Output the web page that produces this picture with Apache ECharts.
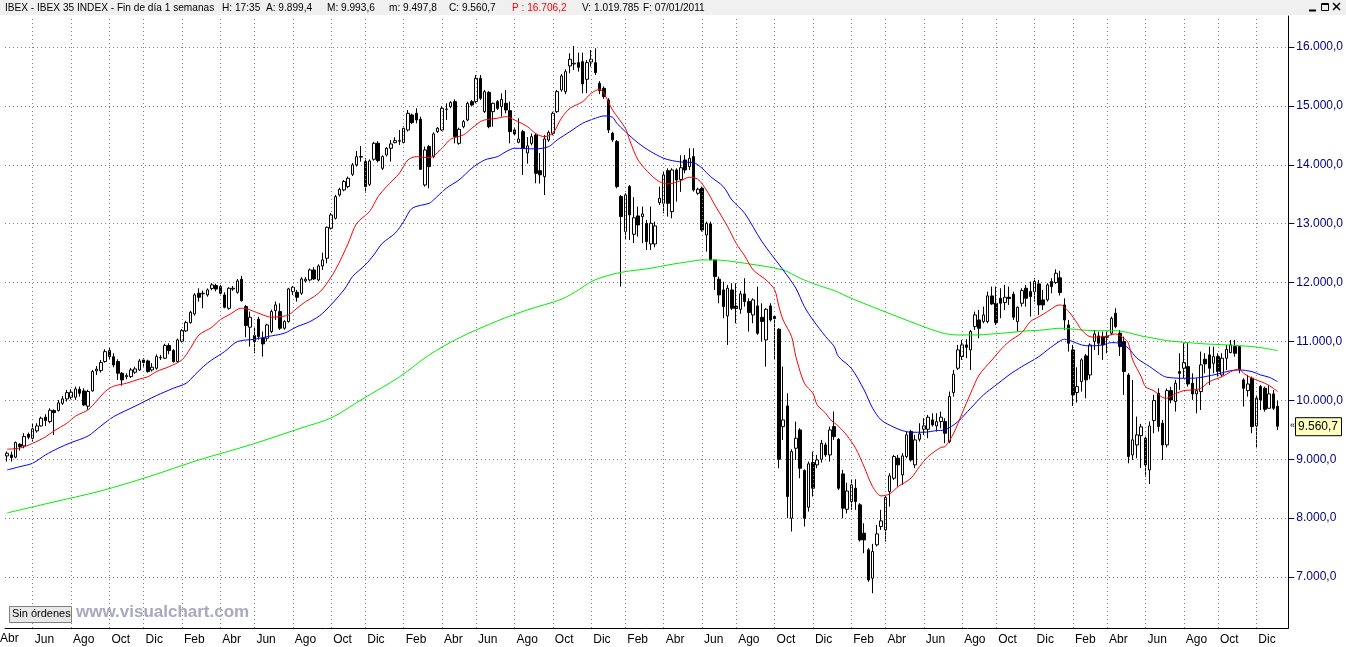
<!DOCTYPE html>
<html><head><meta charset="utf-8">
<script src="https://cdn.jsdelivr.net/npm/echarts@6/dist/echarts.min.js"></script>
<style>html,body{margin:0;padding:0;background:#fff;}#c{width:1346px;height:647px;}</style>
</head><body><div id="c"></div>
<script>
// Weekly candles, first candle week ending 22 Apr 2005, last 07 Jan 2011
const firstWeek = [2005, 3, 22];
const monthNames = ['Ene','Feb','Mar','Abr','May','Jun','Jul','Ago','Sep','Oct','Nov','Dic'];
const opens = [9056,9073,9034,9254,9226,9424,9356,9481,9565,9713,9639,9826,9826,9950,10024,10052,10052,10188,10160,9900,
10160,10500,10505,10658,10844,10740,10658,10460,10400,10403,10477,10516,10686,10669,10516,10545,10720,10715,10930,10845,
10658,11003,11179,11320,11467,11818,11810,11790,11900,11950,11931,11790,11563,11890,11835,12056,11592,11241,11100,11377,
11054,11054,11167,11524,11507,11224,11337,11846,11835,11818,12027,12044,12214,12044,12282,12412,12922,13091,13487,13572,
13629,13838,13997,14130,14053,13668,14093,14365,13940,14166,14280,14376,14400,14376,14591,14846,14874,14772,13657,14308,
14138,14562,14591,14940,14987,15072,14364,14647,14760,15072,15072,15468,14902,15230,14902,15072,14987,15043,14919,14591,
14381,14562,14200,14364,14506,13900,13799,14421,14534,14902,15270,15242,15678,15712,15734,15751,15451,15746,15734,15383,
15298,15100,14534,14393,13459,12865,13629,12820,13131,13120,13006,12655,12655,13357,13346,13900,13204,13912,13750,14081,
13968,14138,13516,13600,12808,12995,12384,12056,11874,11433,11874,11600,11546,11807,11676,11450,11603,11410,11026,11603,
11422,11207,9554,9905,7998,9186,9497,8807,8185,8943,8904,8999,9243,9073,9554,9339,8751,8150,8281,8508,
8225,7744,7461,6980,7546,7857,7800,8451,8677,9017,8734,9045,9470,8904,9339,9509,9509,9668,9566,9639,
9639,9300,10132,10545,10743,10941,10856,11252,11365,11337,11337,11773,11648,11733,11660,11750,11801,11337,11648,11903,
11846,11846,11977,11705,11705,12016,12000,12080,11620,11280,10856,10132,10318,10754,10431,11001,11093,11082,11070,11139,
11478,11139,10997,10431,9073,9243,9400,9356,8818,9656,10120,9611,9243,10165,9978,10488,10544,10573,10290,10109,
10148,10697,10771,10629,10743,10431,10714,10810,10912,10912,10346,10165,10375,9565,10233,10205,9865,10109,9899.4];
const closes = [9101,9028,9283,9215,9384,9373,9515,9565,9696,9656,9831,9792,9956,10024,10131,10137,10194,10120,9922,10150,
10488,10530,10641,10827,10743,10600,10460,10347,10420,10516,10533,10669,10641,10488,10562,10743,10730,10930,10845,10658,
11026,11184,11320,11496,11790,11750,11818,11875,11960,11890,11818,11580,11903,11903,12027,11693,11269,11410,11000,11082,
10958,11280,11507,11620,11224,11337,11892,11920,11750,12061,12056,12214,12061,12282,12384,12938,13148,13459,13584,13714,
13770,13997,14138,14138,13629,14064,14365,14070,14138,14280,14353,14410,14410,14619,14874,14715,14761,13923,14251,13968,
14523,14619,14958,14947,15055,14477,14602,14732,15043,15015,15468,15128,15241,14647,15043,14958,15111,14930,14562,14523,
14438,14279,14320,14477,13855,13830,14438,14546,14874,15242,15508,15581,15791,15723,15655,15372,15734,15791,15564,15259,
15157,14591,14421,13629,13120,13487,13148,13100,12978,13165,12695,13006,12961,13431,13827,13346,13912,13742,13950,13912,
14110,13572,13584,12893,13006,12384,12101,11790,11592,11903,11563,11560,11807,11676,11490,11705,11139,11340,11546,11365,
11388,9000,9667,8366,9130,9356,8847,7998,8921,8508,8988,9271,9073,9497,9384,8508,8168,8460,8564,8281,
7630,7630,6951,7432,7732,7953,8349,8717,9045,8904,9056,9413,8988,9328,9430,9566,9713,9583,9639,9713,
9441,10064,10443,10856,10941,10901,11167,11450,11224,11450,11773,11637,11320,11648,11750,11728,11411,11580,11863,11733,
11762,12016,11620,11620,11960,11931,12158,11830,11365,10969,10092,10232,10686,10347,10940,11127,10969,10940,11082,11393,
11252,10912,10488,9045,9328,9413,9550,8903,9565,9996,9554,9243,10165,10007,10290,10460,10641,10278,10109,10165,
10601,10618,10545,10743,10488,10714,10867,10941,10799,10516,10205,10278,9554,10035,10007,9848,10109,9865,9560.7];
const lows = [8960,8960,9017,9147,9186,9339,9299,9452,9554,9565,9611,9413,9809,9922,9978,10018,10007,10063,9905,9840,
10148,10430,10471,10641,10700,10560,10347,10250,10358,10380,10450,10500,10573,10470,10488,10520,10686,10700,10783,10640,
10640,10980,11160,11300,11440,11677,11563,11760,11870,11850,11800,11563,11540,11860,11810,11676,11071,10912,10800,11030,
10743,11000,11140,11365,11196,11200,11320,11790,11677,11790,12000,12020,12044,12020,12214,12327,12900,13070,13460,13550,
13600,13810,13968,14053,13527,13640,14070,14040,13910,14140,14053,14364,14336,14350,14563,14690,14704,13912,13629,13600,
14110,14540,14570,14760,14960,14364,14340,14620,14740,14990,15043,15100,14880,14620,14647,14930,14817,14874,14364,14500,
14364,13827,14020,14330,13686,13680,13487,14390,14500,14880,15240,15200,15553,15610,15581,15214,15214,15666,15525,15200,
15120,14540,14390,13600,11931,12724,12724,12670,12780,12667,12554,12554,12599,13318,13176,13120,13091,13374,13540,13855,
13912,13544,13490,12865,12525,12384,11874,11648,11394,10941,11535,11309,11470,11592,11167,11309,11111,10997,10573,11337,
10686,8847,9328,7998,7772,8988,8677,7857,8111,8366,8847,8943,9040,8960,9328,8479,7998,8080,8140,8140,
7602,7404,6920,6725,7517,7800,7602,8196,8649,8536,8564,9017,8960,8847,9300,9413,9356,9554,9470,9526,
9271,9271,10064,10516,10686,10715,10516,11196,11054,11309,11309,11620,11281,11394,11535,11620,11365,11167,11592,11592,
11422,11677,11450,11535,11677,11818,11977,11780,11195,10827,9905,9961,10148,10035,10358,10856,10771,10686,10799,11110,
11224,10754,10092,8931,8988,9017,8850,8705,8581,9441,9469,8988,9200,9950,9809,10177,10375,10233,10007,9780,
9837,10460,10261,10460,10403,10403,10516,10799,10742,10460,9894,10063,9441,9186,9837,9809,9865,9837,9497.8];
const highs = [9130,9130,9300,9271,9441,9452,9599,9611,9724,9764,9865,9848,10007,10075,10177,10188,10233,10233,10205,10180,
10516,10580,10686,10867,10905,10800,10698,10480,10460,10550,10570,10700,10715,10690,10630,10780,10771,10960,10969,10870,
11050,11210,11350,11520,11820,11903,11863,11900,11990,11980,11960,11835,11920,11940,12060,12112,11620,11507,11250,11420,
11167,11300,11540,11677,11648,11360,11910,11942,11875,12090,12090,12240,12260,12310,12508,12950,13180,13490,13610,13740,
13800,14030,14234,14319,14110,14090,14390,14400,14160,14300,14421,14466,14591,14650,14930,14870,14959,14817,14308,14336,
14550,14640,14990,15043,15080,15111,14630,14760,15070,15100,15524,15524,15270,15250,15055,15100,15213,15270,15072,14620,
14789,14591,14470,14530,14534,14200,14506,14580,14900,15270,15540,15620,15893,16017,15904,15904,15779,15949,15977,15420,
15330,15130,14560,14420,13487,13516,13657,13450,13289,13289,13063,13289,13035,13629,13884,13940,13940,13940,14160,14166,
14280,14280,13610,13629,13035,13035,12384,12101,12016,11960,11988,11988,11860,12073,11733,11733,11931,11648,11563,11648,
11450,11224,10573,10120,9169,9639,9526,8830,8960,9130,9073,9328,9280,9554,9809,9356,8819,8600,8649,8660,
8253,7913,7489,7563,7885,8140,8394,8762,9073,9073,9102,9470,9498,9413,9611,9696,9752,9781,9781,9809,
9696,10149,10516,10941,11026,11037,11196,11507,11535,11592,11846,11931,11931,11903,11960,11931,11846,11592,11903,11960,
12016,12073,12044,11875,11988,12073,12225,12200,11733,11365,10941,10561,10714,10788,10969,11195,11167,11167,11167,11422,
11563,11195,11082,10460,10347,9724,9600,9384,9639,10092,10205,9667,10200,10230,10346,10799,10969,10969,10460,10375,
10827,10799,10912,10912,10799,10799,10941,11026,11026,10912,10375,10431,10403,10092,10261,10233,10261,10177,9993.6];
// Moving averages: [candle index, value]
const maShort = [[0,9170],[3,9190],[6,9270],[9,9380],[11,9480],[14,9610],[16,9730],[19,9840],[21,9990],[23,10150],[25,10240],
[28,10290],[31,10360],[33,10400],[35,10487],[38,10572],[41,10686],[43,10884],[45,11110],[48,11240],[50,11370],[52,11450],
[55,11564],[57,11535],[60,11450],[62,11411],[64,11421],[66,11450],[68,11564],[70,11676],[72,11761],[74,11890],[77,12214],
[80,12667],[82,13007],[85,13204],[87,13458],[89,13628],[92,13856],[94,14081],[96,14138],[99,14120],[102,14280],[104,14433],
[107,14506],[109,14620],[111,14732],[112,14761],[115,14790],[117,14817],[119,14761],[122,14650],[124,14530],[126,14477],
[128,14535],[130,14790],[132,14959],[135,15071],[137,15214],[139,15282],[140,15214],[142,14930],[145,14620],[146,14421],
[148,14080],[151,13827],[153,13713],[155,13674],[158,13730],[160,13788],[162,13754],[164,13572],[166,13317],[169,12949],
[171,12667],[173,12452],[175,12214],[178,12044],[180,11880],[181,11600],[182,11365],[184,11081],[185,10742],[187,10290],
[189,10121],[190,9922],[192,9781],[193,9679],[195,9560],[197,9400],[199,9187],[201,8874],[203,8535],[205,8377],[207,8411],
[209,8535],[212,8678],[214,8874],[216,9044],[219,9200],[220,9214],[222,9441],[224,9781],[226,10121],[228,10431],[231,10686],
[233,10856],[235,10997],[238,11150],[240,11336],[242,11421],[244,11506],[246,11603],[247,11620],[249,11506],[251,11309],
[252,11195],[254,11081],[256,11071],[258,11093],[260,11127],[262,11050],[263,10969],[264,10686],[266,10402],[267,10233],
[269,10160],[271,10050],[272,10036],[274,10109],[276,10165],[278,10176],[280,10205],[282,10317],[285,10402],[287,10487],
[289,10528],[290,10460],[292,10375],[295,10290],[297,10205],[298,10148]];
const maMid = [[0,8818],[3,8874],[6,8932],[9,9073],[12,9187],[15,9282],[19,9395],[22,9565],[25,9723],[30,9900],[35,10080],
[39,10205],[42,10290],[44,10431],[46,10572],[48,10686],[51,10827],[54,10997],[58,11037],[61,11081],[65,11139],[68,11251],
[71,11336],[74,11478],[79,11874],[81,12100],[84,12299],[86,12469],[88,12667],[91,12837],[93,13034],[95,13261],[99,13346],
[100,13402],[103,13601],[106,13742],[109,13941],[112,14081],[115,14138],[117,14222],[119,14280],[124,14270],[127,14307],
[129,14421],[132,14562],[135,14705],[138,14790],[140,14829],[142,14806],[143,14705],[145,14562],[148,14370],[151,14222],
[154,14110],[156,14070],[158,14047],[161,14036],[163,13941],[165,13798],[168,13628],[170,13402],[173,13176],[177,12700],
[182,12214],[185,11903],[187,11591],[189,11365],[192,11081],[194,10912],[195,10742],[198,10545],[201,10177],[203,9866],
[205,9667],[208,9543],[210,9486],[212,9458],[215,9458],[218,9486],[220,9500],[223,9638],[226,9866],[229,10092],[232,10262],
[235,10431],[238,10572],[242,10742],[244,10856],[247,11010],[248,11037],[250,10997],[252,10941],[254,10924],[257,10941],
[259,10980],[261,10969],[263,10884],[265,10715],[268,10572],[271,10420],[272,10392],[275,10375],[278,10375],[281,10402],
[284,10448],[287,10504],[289,10516],[292,10487],[294,10431],[296,10392],[298,10317]];
const maLong = [[0,8088],[10,8258],[22,8462],[33,8699],[45,8988],[57,9243],[69,9531],[76,9701],[83,10007],[92,10397],
[99,10771],[106,11060],[115,11348],[122,11535],[130,11716],[134,11874],[137,12015],[140,12100],[143,12158],[146,12197],
[148,12214],[151,12243],[155,12299],[160,12355],[163,12384],[166,12384],[169,12367],[173,12328],[182,12214],[186,12073],
[190,11959],[194,11863],[198,11733],[209,11416],[219,11150],[223,11110],[227,11110],[231,11127],[235,11150],[239,11178],
[243,11195],[247,11224],[252,11195],[256,11183],[260,11183],[263,11150],[266,11093],[269,11054],[272,11014],[277,10980],
[281,10958],[286,10941],[289,10929],[292,10912],[295,10884],[298,10844]];
const headerParts = ['IBEX - IBEX 35 INDEX - Fin de día 1 semanas', 'H: 17:35', 'A: 9.899,4', 'M: 9.993,6',
  'm: 9.497,8', 'C: 9.560,7', 'P : 16.706,2', 'V: 1.019.785', 'F: 07/01/2011'];
const headerX = [5, 222, 266, 327, 389, 449, 512, 582, 643];

function fmtEs(v, d) {
  const s = Number(v).toFixed(d);
  const parts = s.split('.');
  const ip = parts[0].replace(/\B(?=(\d{3})+(?!\d))/g, '.');
  return parts[1] !== undefined ? ip + ',' + parts[1] : ip;
}

const N = opens.length;
const cats = [], labelIdx = [];
let prevMonth = -1;
for (let i = 0; i < N; i++) {
  const d = new Date(firstWeek[0], firstWeek[1], firstWeek[2] + 7 * i);
  cats.push(d.getFullYear() + '-' + (d.getMonth() + 1) + '-' + d.getDate());
  const m = d.getMonth();
  if (i > 0 && m !== prevMonth && m % 2 === 1) labelIdx.push(i);
  prevMonth = m;
}
cats.push('pad1', 'pad2');
const labelText = {};
labelIdx.forEach(i => { const p = cats[i].split('-'); labelText[i] = monthNames[+p[1] - 1]; });
const firstLabel = monthNames[firstWeek[1]];

const ohlc = [];
for (let i = 0; i < N; i++) ohlc.push([opens[i], closes[i], lows[i], highs[i]]);

const chart = echarts.init(document.getElementById('c'), null, {renderer: 'canvas'});
const FONT = 'Arial, "Liberation Sans", sans-serif';
const graphics = [
  {type: 'rect', id: 'hdr', left: 0, top: 0, shape: {width: 1346, height: 15}, style: {fill: '#f0f0f0'}, z: 10},
  {type: 'line', id: 'ic1', shape: {x1: 1309, y1: 10.5, x2: 1316, y2: 10.5}, style: {stroke: '#000', lineWidth: 2}, z: 11},
  {type: 'rect', id: 'ic2', shape: {x: 1321.5, y: 3.5, width: 7, height: 7}, style: {fill: 'none', stroke: '#000', lineWidth: 1}, z: 11},
  {type: 'line', id: 'ic2b', shape: {x1: 1321.5, y1: 4.5, x2: 1328.5, y2: 4.5}, style: {stroke: '#000', lineWidth: 1}, z: 11},
  {type: 'line', id: 'ic3a', shape: {x1: 1333, y1: 3, x2: 1340, y2: 10}, style: {stroke: '#000', lineWidth: 1.5}, z: 11},
  {type: 'line', id: 'ic3b', shape: {x1: 1340, y1: 3, x2: 1333, y2: 10}, style: {stroke: '#000', lineWidth: 1.5}, z: 11},
  {type: 'rect', id: 'btn', left: 9, top: 606, shape: {width: 62, height: 16}, style: {fill: '#e8e8e8', stroke: '#808080', lineWidth: 1}, z: 10},
  {type: 'text', id: 'btnt', left: 12, top: 608, z: 11, style: {text: 'Sin órdenes', font: '11px ' + FONT, fill: '#000'}},
  {type: 'text', id: 'wm', left: 76, top: 604, z: 11, style: {text: 'www.visualchart.com', font: 'bold 17px ' + FONT, fill: '#a8a8c0'}},
  {type: 'text', id: 'firstlab', left: 0, top: 633, z: 11, style: {text: firstLabel, font: '12px ' + FONT, fill: '#000'}}
];
headerParts.forEach((t, k) => graphics.push({type: 'text', id: 'h' + k, x: headerX[k], y: 2, scaleX: 0.92, z: 11,
  style: {text: t, font: '11px ' + FONT, fill: k === 6 ? '#ff0000' : '#000'}}));

const option = {
  animation: false,
  backgroundColor: '#ffffff',
  grid: {left: 5, top: 16, width: 1285, bottom: 19, containLabel: false},
  xAxis: {
    type: 'category', data: cats, boundaryGap: true,
    axisLine: {show: true, lineStyle: {color: '#000', width: 1}},
    axisTick: {show: false},
    splitLine: {show: false},
    axisLabel: {
      interval: (i) => labelText[i] !== undefined,
      formatter: (v, i) => labelText[i] || '',
      align: 'left', color: '#000', fontSize: 12, fontFamily: FONT, margin: 6, padding: [0, 0, 0, 2]
    }
  },
  yAxis: {
    type: 'value', position: 'right', min: 6134, max: 16526,
    splitNumber: 10, minInterval: 1000, maxInterval: 1000, scale: true,
    axisLine: {show: true, lineStyle: {color: '#000', width: 1}},
    axisTick: {show: true, length: 6, lineStyle: {color: '#000080'}},
    axisLabel: {color: '#000080', fontSize: 12, fontFamily: FONT, margin: 8,
      showMinLabel: false, showMaxLabel: false, formatter: (v) => fmtEs(v, 1)},
    splitLine: {show: true, showMinLine: false, showMaxLine: false,
      lineStyle: {color: '#808080', width: 1, type: [1, 3]}}
  },
  series: [
    {
      type: 'candlestick', data: ohlc, barWidth: 3, z: 2,
      itemStyle: {color: '#ffffff', color0: '#000000', borderColor: '#000000', borderColor0: '#000000', borderWidth: 1},
      markLine: {
        silent: true, symbol: ['none', 'none'], label: {show: false}, animation: false,
        lineStyle: {color: '#808080', width: 1, type: [1, 3]},
        data: labelIdx.map(i => ({xAxis: cats[i]}))
      }
    },
    {type: 'line', data: maLong, symbol: 'none', smooth: 0.3, z: 3, lineStyle: {color: '#00ee00', width: 1}},
    {type: 'line', data: maMid, symbol: 'none', smooth: 0.3, z: 3, lineStyle: {color: '#0000ff', width: 1}},
    {type: 'line', data: maShort, symbol: 'none', smooth: 0.3, z: 4, lineStyle: {color: '#ff0000', width: 1}}
  ],
  graphic: graphics
};
chart.setOption(option);
const yLast = chart.convertToPixel({yAxisIndex: 0}, closes[N - 1]);
chart.setOption({graphic: [
  {type: 'rect', id: 'lastbox', left: 1295, top: yLast - 9, shape: {width: 46, height: 18}, style: {fill: '#ffffc0', stroke: '#000', lineWidth: 1}, z: 12},
  {type: 'text', id: 'lastt', left: 1298, top: yLast - 6, z: 13, style: {text: fmtEs(closes[N - 1], 1), font: '12px ' + FONT, fill: '#000'}},
  {type: 'text', id: 'lasta', left: 1290, top: yLast - 5, z: 13, style: {text: '«', font: '9px ' + FONT, fill: '#000'}}
]});
</script></body></html>
